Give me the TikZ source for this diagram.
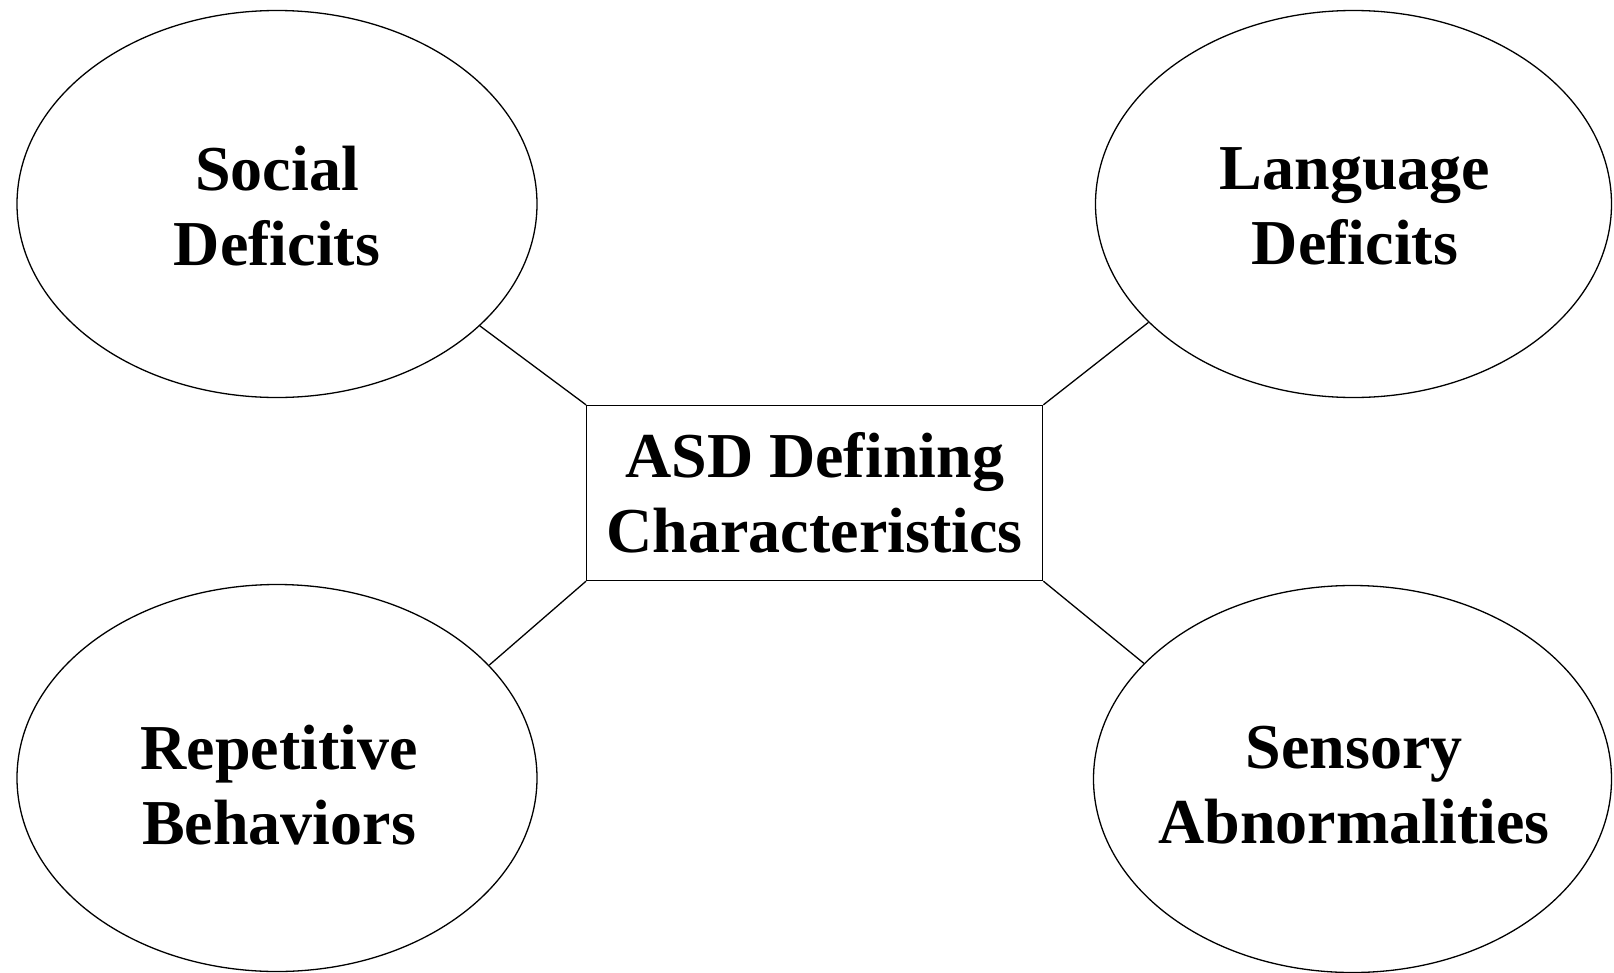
\documentclass[tikz,border=0pt]{standalone}
\usepackage{fontspec}
\setmainfont{Liberation Serif}
\usetikzlibrary{shapes.geometric}
\tikzset{
  trait/.style={draw, line width=1.3pt, ellipse, inner sep=0pt,
    minimum width=520pt, minimum height=387pt},
  traittext/.style={align=center, inner sep=0pt,
    font=\bfseries\fontsize{64}{75}\selectfont},
  hub/.style={draw, line width=1.3pt, rectangle, inner sep=0pt,
    minimum width=456pt, minimum height=175pt, align=center,
    font=\bfseries\fontsize{64}{75}\selectfont},
  link/.style={line width=1.3pt}
}
\begin{document}
\begin{tikzpicture}[x=1pt, y=-1pt]
\useasboundingbox (0,0) rectangle (1614,972);
% central box
\node[hub] (asd) at (814.7,493) {ASD Defining\\Characteristics};
% the four surrounding ellipses
\node[trait] (social) at (277,204) {};
\node[trait, minimum width=516pt] (lang) at (1353.5,204) {};
\node[trait] (rep) at (277,778) {};
\node[trait, minimum width=518pt] (sens) at (1352.5,779) {};
% their labels
\node[traittext] (socialtxt) at (277,206) {Social\\Deficits};
\node[traittext] (langtxt) at (1355,206) {Language\\Deficits};
\node[traittext] (reptxt) at (279,785) {Repetitive\\Behaviors};
\node[traittext] (senstxt) at (1354,785) {Sensory\\Abnormalities};
% connectors
\draw[link] (asd.north west) -- (social.-31);
\draw[link] (asd.north east) -- (lang.210.6);
\draw[link] (asd.south west) -- (rep.28.7);
\draw[link] (asd.south east) -- (sens.151.3);
\end{tikzpicture}
\end{document}
